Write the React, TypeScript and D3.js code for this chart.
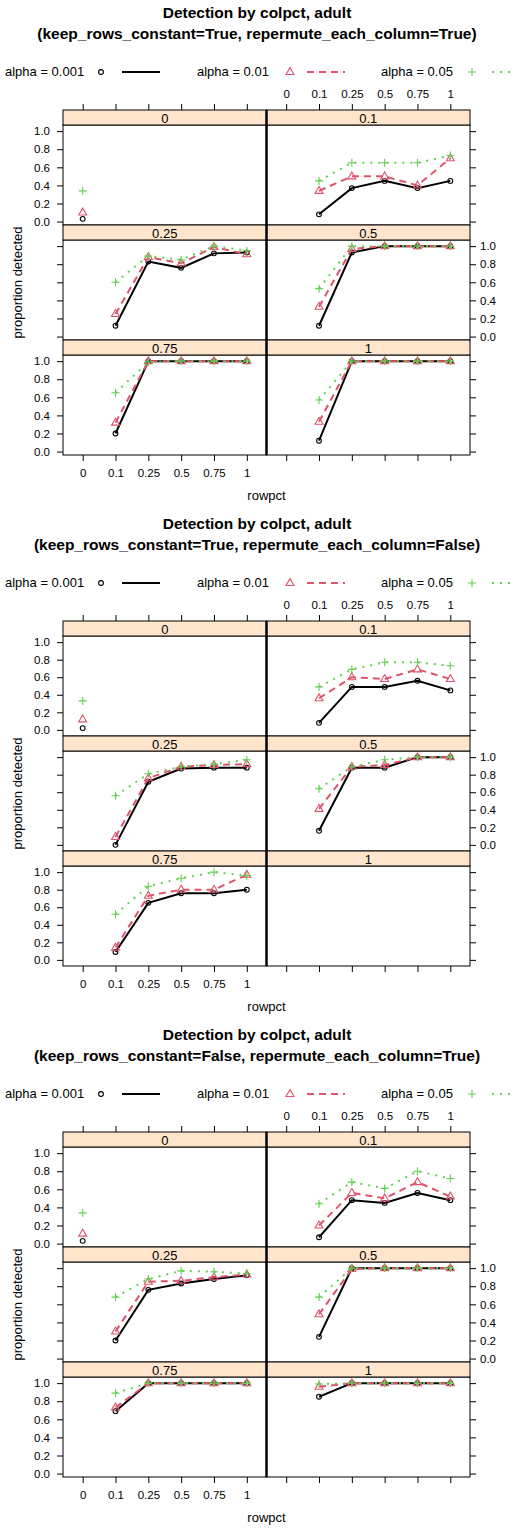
import React, { useEffect, useRef } from "react";
import * as d3 from "d3";

// x categories (rowpct) and panel levels (colpct)
const rowpct = ["0", "0.1", "0.25", "0.5", "0.75", "1"];
const colpct = ["0", "0.1", "0.25", "0.5", "0.75", "1"];
const alphaLevels = ["0.001", "0.01", "0.05"];
const yTicks = [0, 0.2, 0.4, 0.6, 0.8, 1.0];

const titles = [
  "(keep_rows_constant=True, repermute_each_column=True)",
  "(keep_rows_constant=True, repermute_each_column=False)",
  "(keep_rows_constant=False, repermute_each_column=True)",
];

// rows = colpct panel, columns = rowpct; null = no data
const f1a001 = [
  [0.03, null, null, null, null, null],
  [null, 0.08, 0.37, 0.45, 0.37, 0.45],
  [null, 0.12, 0.83, 0.76, 0.92, 0.93],
  [null, 0.12, 0.93, 1.0, 1.0, 1.0],
  [null, 0.2, 1.0, 1.0, 1.0, 1.0],
  [null, 0.12, 1.0, 1.0, 1.0, 1.0],
];
const f1a01 = [
  [0.1, null, null, null, null, null],
  [null, 0.34, 0.5, 0.5, 0.4, 0.7],
  [null, 0.25, 0.88, 0.81, 0.99, 0.91],
  [null, 0.33, 0.97, 1.0, 1.0, 1.0],
  [null, 0.32, 1.0, 1.0, 1.0, 1.0],
  [null, 0.33, 1.0, 1.0, 1.0, 1.0],
];
const f1a05 = [
  [0.34, null, null, null, null, null],
  [null, 0.45, 0.65, 0.65, 0.65, 0.73],
  [null, 0.6, 0.89, 0.85, 1.0, 0.95],
  [null, 0.53, 1.0, 1.0, 1.0, 1.0],
  [null, 0.65, 0.99, 1.0, 1.0, 1.0],
  [null, 0.57, 1.0, 1.0, 1.0, 1.0],
];

const f2a001 = [
  [0.02, null, null, null, null, null],
  [null, 0.08, 0.49, 0.49, 0.56, 0.45],
  [null, 0.0, 0.72, 0.87, 0.88, 0.88],
  [null, 0.16, 0.88, 0.88, 1.0, 1.0],
  [null, 0.09, 0.65, 0.76, 0.76, 0.8],
  [null, null, null, null, null, null],
];
const f2a01 = [
  [0.12, null, null, null, null, null],
  [null, 0.36, 0.6, 0.58, 0.69, 0.58],
  [null, 0.09, 0.76, 0.89, 0.91, 0.92],
  [null, 0.41, 0.89, 0.91, 1.0, 1.0],
  [null, 0.14, 0.73, 0.8, 0.8, 0.97],
  [null, null, null, null, null, null],
];
const f2a05 = [
  [0.33, null, null, null, null, null],
  [null, 0.49, 0.69, 0.77, 0.77, 0.73],
  [null, 0.56, 0.81, 0.89, 0.92, 0.97],
  [null, 0.64, 0.89, 0.97, 1.0, 1.0],
  [null, 0.52, 0.84, 0.93, 1.0, 0.96],
  [null, null, null, null, null, null],
];

const f3a001 = [
  [0.03, null, null, null, null, null],
  [null, 0.07, 0.48, 0.45, 0.56, 0.48],
  [null, 0.2, 0.76, 0.83, 0.88, 0.92],
  [null, 0.24, 1.0, 1.0, 1.0, 1.0],
  [null, 0.69, 1.0, 1.0, 1.0, 1.0],
  [null, 0.85, 1.0, 1.0, 1.0, 1.0],
];
const f3a01 = [
  [0.11, null, null, null, null, null],
  [null, 0.2, 0.56, 0.5, 0.68, 0.52],
  [null, 0.3, 0.85, 0.86, 0.9, 0.93],
  [null, 0.49, 0.99, 1.0, 1.0, 1.0],
  [null, 0.73, 1.0, 1.0, 1.0, 1.0],
  [null, 0.96, 1.0, 1.0, 1.0, 1.0],
];
const f3a05 = [
  [0.34, null, null, null, null, null],
  [null, 0.44, 0.68, 0.61, 0.8, 0.72],
  [null, 0.68, 0.88, 0.97, 0.96, 0.94],
  [null, 0.68, 1.0, 1.0, 1.0, 1.0],
  [null, 0.89, 1.0, 1.0, 1.0, 1.0],
  [null, 0.99, 1.0, 1.0, 1.0, 1.0],
];

const figures = [
  [f1a001, f1a01, f1a05],
  [f2a001, f2a01, f2a05],
  [f3a001, f3a01, f3a05],
];

const colors = ["#000000", "#DF536B", "#61D04F"];
const dashes = ["none", "7,5", "2,6"];
const FONT = "'Liberation Sans', Arial, Helvetica, sans-serif";

const W = 514;
const FIG_H = 511;
const panelLeft = 63;
const panelW = 203.5;
const stripH = 15;
const panelH = 100;
const rowStep = 115;
const firstStrip = 110;

function drawSymbol(g: any, k: number, x: number, y: number) {
  if (k === 0) {
    g.append("circle").attr("cx", x).attr("cy", y).attr("r", 2.4)
      .attr("fill", "none").attr("stroke", colors[0]).attr("stroke-width", 1.1);
  } else if (k === 1) {
    g.append("path")
      .attr("d", `M${x},${y - 4.4}L${x + 4},${y + 2.5}L${x - 4},${y + 2.5}Z`)
      .attr("fill", "none").attr("stroke", colors[1]).attr("stroke-width", 1.1);
  } else {
    g.append("path")
      .attr("d", `M${x - 4},${y}H${x + 4}M${x},${y - 4}V${y + 4}`)
      .attr("fill", "none").attr("stroke", colors[2]).attr("stroke-width", 1.1);
  }
}

function styleAxis(sel: any) {
  sel.select(".domain").remove();
  sel.selectAll("text").attr("font-size", 11.5).attr("font-family", FONT).attr("fill", "#000");
  sel.selectAll("line").attr("stroke", "#000");
}

const App = () => {
  const ref = useRef<SVGSVGElement>(null);

  useEffect(() => {
    const svg = d3.select(ref.current);
    svg.selectAll("*").remove();
    document.body.style.margin = "0";

    figures.forEach((series, fi) => {
      const g = svg.append("g").attr("transform", `translate(0,${fi * FIG_H})`);

      g.append("text").attr("x", W / 2).attr("y", 18).attr("text-anchor", "middle")
        .attr("font-family", FONT).attr("font-size", 15.5).attr("font-weight", "bold")
        .text("Detection by colpct, adult");
      g.append("text").attr("x", W / 2).attr("y", 39).attr("text-anchor", "middle")
        .attr("font-family", FONT).attr("font-size", 15.5).attr("font-weight", "bold")
        .text(titles[fi]);

      // key
      const keyText = [5, 197, 381];
      const keyPt = [101, 290, 472];
      const keyLine = [122, 307, 492];
      alphaLevels.forEach((a, k) => {
        g.append("text").attr("x", keyText[k]).attr("y", 76)
          .attr("font-family", FONT).attr("font-size", 13).text(`alpha = ${a}`);
        drawSymbol(g, k, keyPt[k], 72);
        g.append("line").attr("x1", keyLine[k]).attr("x2", keyLine[k] + 38)
          .attr("y1", 72).attr("y2", 72).attr("stroke", colors[k])
          .attr("stroke-width", 2).attr("stroke-dasharray", dashes[k]);
      });

      // y limits like lattice: data range padded by 7%
      const all = series.flat(2).filter((v) => v != null) as number[];
      const [mn, mx] = d3.extent(all) as [number, number];
      const pad = (mx - mn) * 0.07;
      const yDomain = [mn - pad, mx + pad];

      colpct.forEach((lev, p) => {
        const r = Math.floor(p / 2);
        const c = p % 2;
        const px = panelLeft + c * panelW;
        const sy = firstStrip + r * rowStep;
        const py = sy + stripH;

        const x = d3.scalePoint().domain(rowpct).range([px, px + panelW]).padding(0.6);
        const y = d3.scaleLinear().domain(yDomain).range([py + panelH, py]);

        g.append("rect").attr("x", px).attr("y", py).attr("width", panelW).attr("height", panelH)
          .attr("fill", "#fff").attr("stroke", "#000").attr("stroke-width", 1);
        g.append("rect").attr("x", px).attr("y", sy).attr("width", panelW).attr("height", stripH)
          .attr("fill", "#FFE5CC").attr("stroke", "#000").attr("stroke-width", 1);
        g.append("text").attr("x", px + panelW / 2).attr("y", sy + stripH - 2)
          .attr("text-anchor", "middle").attr("font-family", FONT).attr("font-size", 13)
          .text(lev);

        // y axes, alternating
        const labelLeft = c === 0 && r !== 1;
        const labelRight = c === 1 && r === 1;
        if (c === 0) {
          const ax = d3.axisLeft(y).tickValues(yTicks).tickSize(6).tickSizeOuter(0).tickPadding(7)
            .tickFormat(labelLeft ? (d3.format(".1f") as any) : () => "");
          g.append("g").attr("transform", `translate(${px},0)`).call(ax).call(styleAxis);
        } else {
          const ax = d3.axisRight(y).tickValues(yTicks).tickSize(6).tickSizeOuter(0).tickPadding(4)
            .tickFormat(labelRight ? (d3.format(".1f") as any) : () => "");
          g.append("g").attr("transform", `translate(${px + panelW},0)`).call(ax).call(styleAxis);
        }
        // x axes
        if (r === 0) {
          const ax = d3.axisTop(x).tickSize(6).tickSizeOuter(0).tickPadding(6)
            .tickFormat(c === 1 ? (d) => d : () => "");
          g.append("g").attr("transform", `translate(0,${sy})`).call(ax).call(styleAxis);
        }
        if (r === 2) {
          const ax = d3.axisBottom(x).tickSize(6).tickSizeOuter(0).tickPadding(8)
            .tickFormat(c === 0 ? (d) => d : () => "");
          g.append("g").attr("transform", `translate(0,${py + panelH})`).call(ax).call(styleAxis);
        }

        // series
        series.forEach((vals, k) => {
          const row = vals[p];
          const pts = rowpct.map((rp, i) => ({ rp, v: row[i] }));
          const line = d3.line<any>()
            .defined((d) => d.v != null)
            .x((d) => x(d.rp) as number)
            .y((d) => y(d.v));
          g.append("path").attr("d", line(pts)).attr("fill", "none")
            .attr("stroke", colors[k]).attr("stroke-width", 2)
            .attr("stroke-dasharray", dashes[k]);
          pts.filter((d) => d.v != null).forEach((d) => {
            drawSymbol(g, k, x(d.rp) as number, y(d.v as number));
          });
        });
      });

      // shared centre border
      g.append("line").attr("x1", panelLeft + panelW).attr("x2", panelLeft + panelW)
        .attr("y1", firstStrip).attr("y2", firstStrip + 2 * rowStep + stripH + panelH)
        .attr("stroke", "#000").attr("stroke-width", 2.5);

      g.append("text").attr("x", panelLeft + panelW).attr("y", 500).attr("text-anchor", "middle")
        .attr("font-family", FONT).attr("font-size", 13).text("rowpct");
      const cy = (firstStrip + firstStrip + 2 * rowStep + stripH + panelH) / 2;
      g.append("text").attr("transform", `translate(22,${cy}) rotate(-90)`)
        .attr("text-anchor", "middle").attr("font-family", FONT).attr("font-size", 13)
        .text("proportion detected");
    });
  }, []);

  return (
    <svg
      ref={ref}
      width={W}
      height={1533}
      style={{ display: "block", position: "absolute", left: 0, top: 0, background: "#fff" }}
    />
  );
};

export default App;
